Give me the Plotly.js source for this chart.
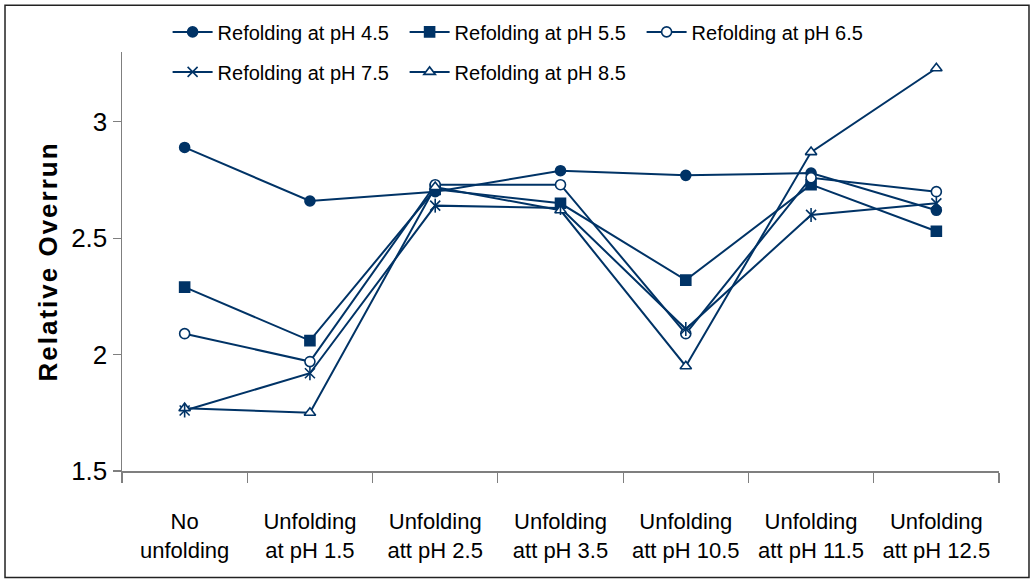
<!DOCTYPE html>
<html>
<head>
<meta charset="utf-8">
<script src="https://cdn.plot.ly/plotly-3.0.1.min.js"></script>
<style>
  html, body { margin: 0; padding: 0; background: #fff; }
  #chart { width: 1034px; height: 581px; }
  .ytitle { letter-spacing: 2px; }
</style>
</head>
<body>
<div id="chart"></div>
<script>
const categories = [
  "No<br>unfolding",
  "Unfolding<br>at pH 1.5",
  "Unfolding<br>att pH 2.5",
  "Unfolding<br>att pH 3.5",
  "Unfolding<br>att pH 10.5",
  "Unfolding<br>att pH 11.5",
  "Unfolding<br>att pH 12.5"
];
const seriesNames = [
  "Refolding at pH 4.5",
  "Refolding at pH 5.5",
  "Refolding at pH 6.5",
  "Refolding at pH 7.5",
  "Refolding at pH 8.5"
];
const ph45 = [2.89, 2.66, 2.70, 2.79, 2.77, 2.78, 2.62];
const ph55 = [2.29, 2.06, 2.71, 2.65, 2.32, 2.73, 2.53];
const ph65 = [2.09, 1.97, 2.73, 2.73, 2.09, 2.76, 2.70];
const ph75 = [1.76, 1.92, 2.64, 2.63, 2.11, 2.60, 2.65];
const ph85 = [1.77, 1.75, 2.72, 2.62, 1.95, 2.87, 3.23];
const yTicks = [1.5, 2, 2.5, 3];
const yTickText = ["1.5", "2", "2.5", "3"];

const NAVY = "#003366";
const FONT = "'Liberation Sans', Arial, sans-serif";

function tr(name, y, symbol, fill, legend, show) {
  return {
    type: "scatter", mode: "lines+markers", x: categories, y: y, name: name,
    legend: legend, showlegend: show !== false,
    line: { color: NAVY, width: 2 },
    marker: { symbol: symbol, size: 10, color: fill, line: { color: NAVY, width: 1.6 } },
    hoverinfo: "skip"
  };
}

const data = [
  tr(seriesNames[0], ph45, "circle", NAVY, "legend"),
  tr(seriesNames[1], ph55, "square", NAVY, "legend"),
  tr(seriesNames[2], ph65, "circle", "#ffffff", "legend"),
  tr(seriesNames[3], ph75, "x-thin-open", NAVY, "legend2"),
  tr(seriesNames[4], ph85, "triangle-up", "#ffffff", "legend2"),
  {
    type: "scatter", mode: "markers", x: categories, y: ph75, showlegend: false,
    marker: { symbol: "line-ns-open", size: 10, color: NAVY, line: { color: NAVY, width: 1.6 } },
    hoverinfo: "skip"
  }
];

const legendCommon = {
  orientation: "h", xanchor: "left", yanchor: "middle",
  font: { family: FONT, size: 20, color: "#000" },
  bgcolor: "rgba(0,0,0,0)", borderwidth: 0,
  itemwidth: 40, entrywidthmode: "pixels", entrywidth: 182,
  traceorder: "normal"
};

const layout = {
  width: 1034, height: 581,
  margin: { l: 122, r: 35, t: 50, b: 110 },
  paper_bgcolor: "#fff", plot_bgcolor: "#fff",
  font: { family: FONT, color: "#000" },
  showlegend: true,
  legend: Object.assign({}, legendCommon, { x: 0.052, y: 1.048 }),
  legend2: Object.assign({}, legendCommon, { x: 0.052, y: 0.9525 }),
  xaxis: {
    type: "category",
    showline: true, linecolor: "#7f7f7f", linewidth: 1.5,
    ticks: "outside", tickson: "boundaries", ticklen: 10, tickcolor: "#7f7f7f", tickwidth: 1.2,
    showgrid: false, zeroline: false,
    tickangle: 0, ticklabelstandoff: 30,
    tickfont: { family: FONT, size: 22, color: "#000" },
    range: [-0.5, 6.5]
  },
  yaxis: {
    range: [1.5, 3.3],
    tickvals: yTicks, ticktext: yTickText,
    showline: true, linecolor: "#7f7f7f", linewidth: 1.5,
    ticks: "outside", ticklen: 8, tickcolor: "#7f7f7f", tickwidth: 1.2,
    showgrid: false, zeroline: false,
    tickfont: { family: FONT, size: 26, color: "#000" },
    title: { text: "Relative Overrun", standoff: 6,
      font: { family: FONT, size: 26, color: "#000", weight: "bold" } }
  },
  shapes: [{
    type: "rect", xref: "paper", yref: "paper",
    x0: -0.1334, x1: 1.0342, y0: -0.2542, y1: 1.1116,
    line: { color: "#222", width: 1.5 }, fillcolor: "rgba(0,0,0,0)", layer: "above"
  }]
};

Plotly.newPlot("chart", data, layout, { displayModeBar: false, staticPlot: true });
</script>
</body>
</html>
